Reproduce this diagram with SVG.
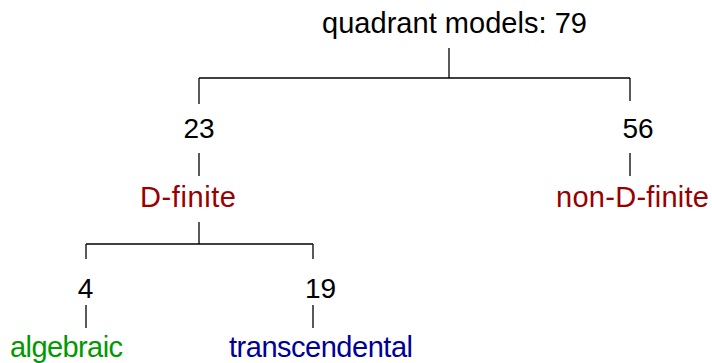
<svg xmlns="http://www.w3.org/2000/svg" width="712" height="363" viewBox="0 0 712 363">
<style>
text{font-family:"Liberation Sans","DejaVu Sans",sans-serif;font-size:29px;fill:#000}
.num{font-size:28px;text-anchor:middle}
.red{fill:#990000}.green{fill:#009900}.blue{fill:#000099}
#connectors line{stroke:#000;stroke-width:1.3}
</style>
<rect width="712" height="363" fill="#fff"/>
<g id="connectors">
<line x1="449" y1="48" x2="449" y2="78"/>
<line x1="199" y1="78" x2="630" y2="78"/>
<line x1="199" y1="78" x2="199" y2="104"/>
<line x1="630" y1="78" x2="630" y2="101"/>
<line x1="199" y1="153" x2="199" y2="176"/>
<line x1="630" y1="153" x2="630" y2="176"/>
<line x1="199" y1="222" x2="199" y2="244"/>
<line x1="86" y1="244" x2="313" y2="244"/>
<line x1="86" y1="244" x2="86" y2="259"/>
<line x1="313" y1="244" x2="313" y2="259"/>
<line x1="86" y1="305" x2="86" y2="328"/>
<line x1="313" y1="305" x2="313" y2="328"/>
</g>
<g id="root"><text x="322" y="33" textLength="265" lengthAdjust="spacing">quadrant models: 79</text></g>
<g id="n23"><text class="num" x="199" y="138">23</text></g>
<g id="n56"><text class="num" x="638" y="138">56</text></g>
<g id="dfinite"><text class="red" x="140" y="207" textLength="96" lengthAdjust="spacing">D-finite</text></g>
<g id="nondfinite"><text class="red" x="556" y="207" textLength="153" lengthAdjust="spacing">non-D-finite</text></g>
<g id="n4"><text class="num" x="85.5" y="298">4</text></g>
<g id="n19"><text class="num" x="320.5" y="298">19</text></g>
<g id="algebraic"><text class="green" x="10" y="357" textLength="113" lengthAdjust="spacing">algebraic</text></g>
<g id="transcendental"><text class="blue" x="229" y="357" textLength="184" lengthAdjust="spacing">transcendental</text></g>
</svg>
